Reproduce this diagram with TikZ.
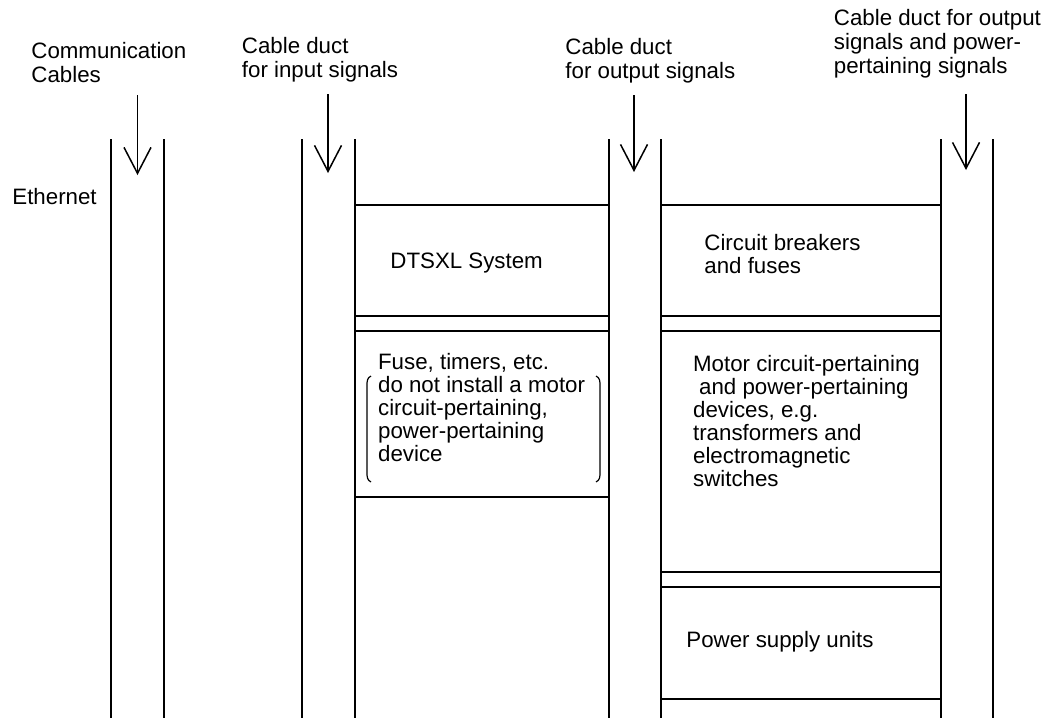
\documentclass[tikz,border=0pt]{standalone}
\usepackage{fontspec}
\setmainfont{Liberation Sans}
\usetikzlibrary{arrows.meta}
\begin{document}
\begin{tikzpicture}[x=0.5pt,y=-0.5pt,
  duct/.style={line width=1pt},
  shelf/.style={line width=0.85pt},
  feed/.style={line width=0.75pt,-{Straight Barb[length=13pt,width=13.5pt,line width=0.75pt]}},
  paren/.style={line width=0.6pt},
  hdr/.style={font=\fontsize{11.15}{12}\selectfont, align=left, anchor=base west, inner sep=0pt},
  txt/.style={font=\fontsize{11.15}{11.5}\selectfont, align=left, anchor=base west, inner sep=0pt}]
\useasboundingbox (0,0) rectangle (1054,718);

% header labels (anchor = baseline of last line)
\node[hdr] (comm) at (31,82) {Communication\\Cables};
\node[hdr] (inp) at (241.5,77) {Cable duct\\for input signals};
\node[hdr] (outp) at (565,78) {Cable duct\\for output signals};
\node[hdr] (pwr) at (833.5,73) {Cable duct for output\\signals and power-\\pertaining signals};
\node[hdr] (eth) at (12,204) {Ethernet};

% duct walls
\foreach \x in {111,164,302,355,609,661,941,993}
  \draw[duct] (\x,139) -- (\x,718);

% cable arrows
\coordinate (a1s) at (137.5,95); \coordinate (a1e) at (137.5,175);
\coordinate (a2s) at (328,94);   \coordinate (a2e) at (328,173);
\coordinate (a3s) at (634,95);   \coordinate (a3e) at (634,172);
\coordinate (a4s) at (966,94);   \coordinate (a4e) at (966,170);
\draw[feed] (a1s) -- (a1e);
\draw[feed] (a2s) -- (a2e);
\draw[feed] (a3s) -- (a3e);
\draw[feed] (a4s) -- (a4e);

% shelves
\foreach \y in {205,316,331,497}
  \draw[shelf] (355,\y) -- (609,\y);
\foreach \y in {205,316,331,572,587,699}
  \draw[shelf] (661,\y) -- (941,\y);

% box texts (anchor = baseline of last line)
\node[txt] (dtsxl) at (390,268) {DTSXL System};
\node[txt] (cb) at (704,273) {Circuit breakers\\and fuses};
\node[txt] (fuse) at (377.7,461) {Fuse, timers, etc.\\do not install a motor\\circuit-pertaining,\\power-pertaining\\device};
\node[txt] (motor) at (692.7,486) {Motor circuit-pertaining\\\hspace*{0.27em}and power-pertaining\\devices, e.g.\\transformers and\\electromagnetic\\switches};
\node[txt] (psu) at (686,647) {Power supply units};

% brackets
\draw[paren] (371,376) .. controls (367,378) and (367,381) .. (367,386) -- (367,472) .. controls (367,477) and (367,480) .. (371,482);
\draw[paren] (596,376) .. controls (600,378) and (600,381) .. (600,386) -- (600,472) .. controls (600,477) and (600,480) .. (596,482);
\end{tikzpicture}
\end{document}
